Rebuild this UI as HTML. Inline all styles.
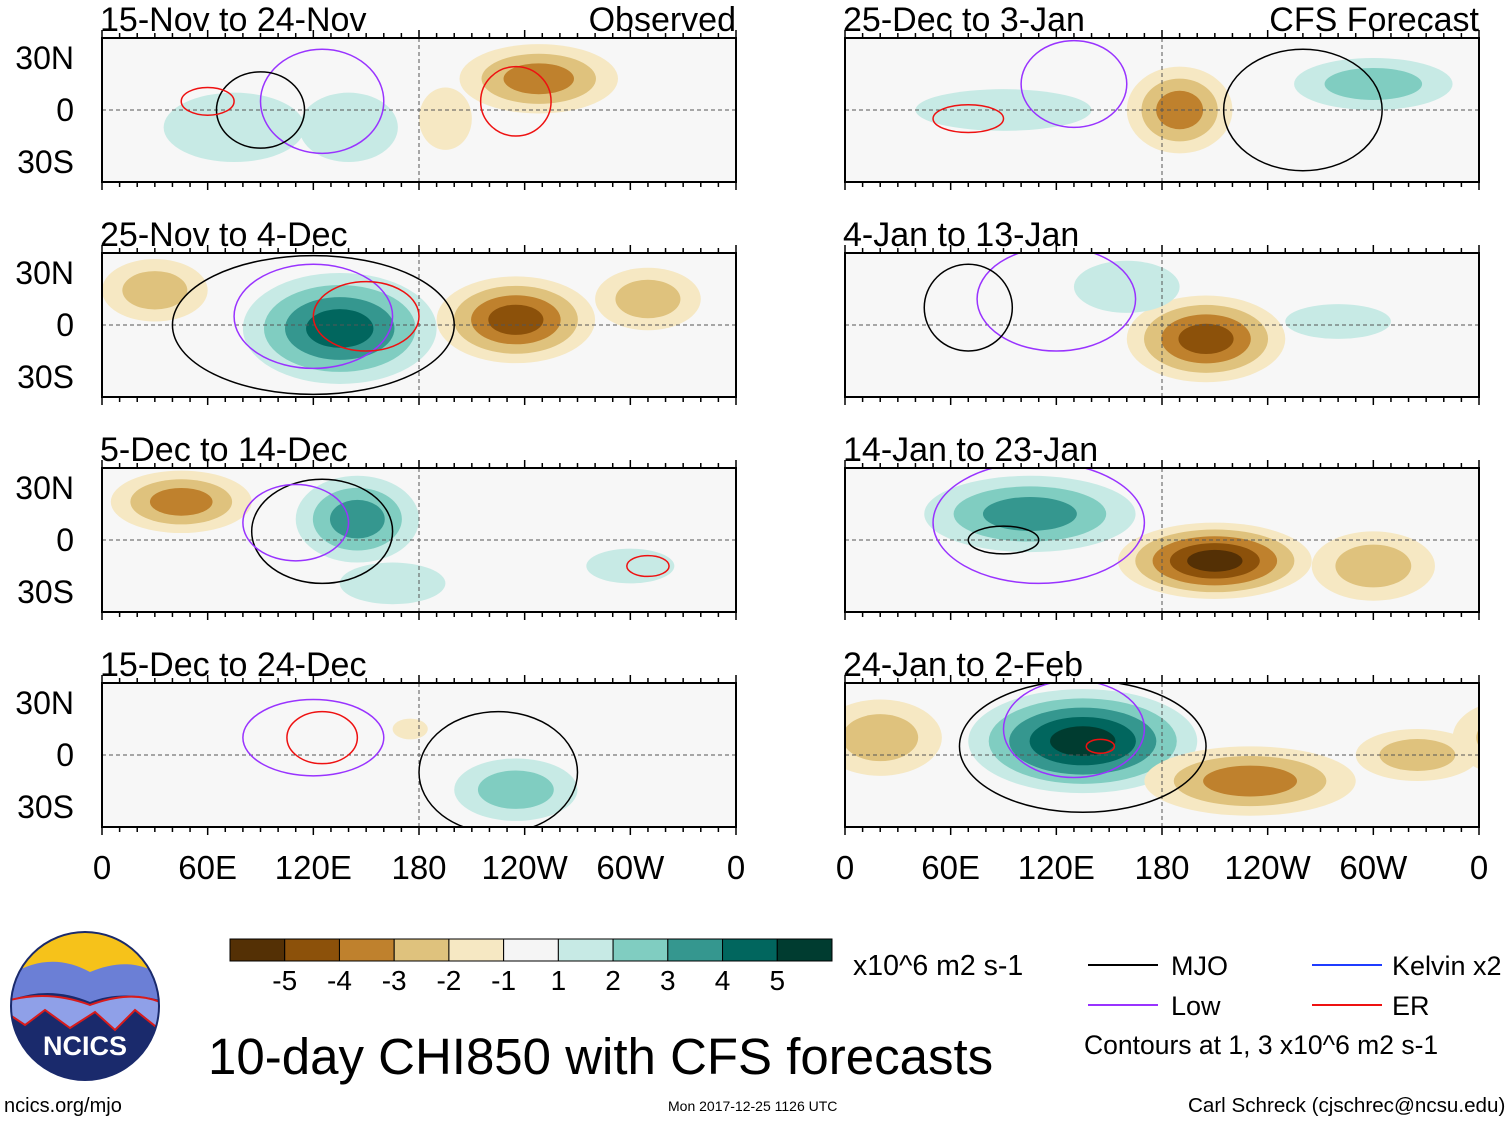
<!DOCTYPE html>
<html><head><meta charset="utf-8">
<style>
body{margin:0;background:#fff;width:1510px;height:1121px;overflow:hidden;font-family:"Liberation Sans",sans-serif}
svg text{font-family:"Liberation Sans",sans-serif}
</style></head><body>
<svg id="fig" width="1510" height="1121">
<defs>
<clipPath id="logoclip"><circle cx="85" cy="1006" r="74"/></clipPath>
</defs>
<g id="panels"></g>
<g id="cbar"></g>
<g><text x="853" y="975" font-size="28.5">x10^6 m2 s-1</text></g>
<g>
<line x1="1088" y1="965" x2="1158" y2="965" stroke="#000" stroke-width="2"/><text x="1171" y="975" font-size="27">MJO</text>
<line x1="1088" y1="1005" x2="1158" y2="1005" stroke="#9933ff" stroke-width="2"/><text x="1171" y="1015" font-size="27">Low</text>
<line x1="1312" y1="965" x2="1382" y2="965" stroke="#1f3cff" stroke-width="2"/><text x="1392" y="975" font-size="27">Kelvin x2</text>
<line x1="1312" y1="1005" x2="1382" y2="1005" stroke="#ee1111" stroke-width="2"/><text x="1392" y="1015" font-size="27">ER</text>
<text x="1084" y="1054" font-size="26.5">Contours at 1, 3 x10^6 m2 s-1</text>
</g>
<text x="208" y="1074" font-size="51">10-day CHI850 with CFS forecasts</text>
<text x="4" y="1112" font-size="20">ncics.org/mjo</text>
<text x="668" y="1111" font-size="14">Mon 2017-12-25 1126 UTC</text>
<text x="1188" y="1112" font-size="20.6">Carl Schreck (cjschrec@ncsu.edu)</text>
<g>
<g clip-path="url(#logoclip)">
<rect x="10" y="930" width="150" height="150" fill="#1a2a6c"/>
<rect x="10" y="930" width="150" height="45" fill="#f6c21a"/>
<path d="M10 975 Q50 950 90 972 Q130 955 160 975 L160 1000 Q120 990 90 1002 Q50 985 10 1000Z" fill="#6b7fd6"/>
<path d="M10 1000 Q50 990 90 1005 Q130 990 160 1002 L160 1030 L135 1010 L115 1030 L95 1012 L70 1028 L45 1010 L25 1025 L10 1015Z" fill="#8fa0e8" stroke="#d81b1b" stroke-width="2"/>
</g>
<circle cx="85" cy="1006" r="74" fill="none" stroke="#1a2a6c" stroke-width="2"/>
<text x="85" y="1055" font-size="27" font-weight="bold" fill="#fff" text-anchor="middle">NCICS</text>
</g>
</svg>
<script>
const NS="http://www.w3.org/2000/svg";
function mk(tag,attrs,parent){const e=document.createElementNS(NS,tag);for(const k in attrs)e.setAttribute(k,attrs[k]);parent.appendChild(e);return e;}
const levelColors={"-5":"#543005","-4":"#8c510a","-3":"#bf812d","-2":"#dfc27d","-1":"#f6e8c3","1":"#c7eae5","2":"#80cdc1","3":"#35978f","4":"#01665e","5":"#003c30"};
// colorbar data
const cbarColors=["#543005","#8c510a","#bf812d","#dfc27d","#f6e8c3","#f5f5f5","#c7eae5","#80cdc1","#35978f","#01665e","#003c30"];
const cbarTicks=["-5","-4","-3","-2","-1","1","2","3","4","5"];
// panel titles and layout
const panelTitles=["15-Nov to 24-Nov","25-Nov to 4-Dec","5-Dec to 14-Dec","15-Dec to 24-Dec","25-Dec to 3-Jan","4-Jan to 13-Jan","14-Jan to 23-Jan","24-Jan to 2-Feb"];
const panelCol=[0,0,0,0,1,1,1,1];
const panelRow=[0,1,2,3,0,1,2,3];
const lonTicks=["0","60E","120E","180","120W","60W","0"];
const latTicks=["30N","0","30S"];
// anomaly blobs: panel index, center lon, center lat, half-width lon, half-height lat, peak level
const blobPanel=[0,0,0,0, 1,1,1,1, 2,2,2,2, 3,3, 4,4,4, 5,5,5, 6,6,6, 7,7,7,7];
const blobLon=  [248,75,140,195, 135,235,30,310, 145,45,165,300, 235,175, 190,300,90, 205,160,280, 105,210,300, 135,230,20,325];
const blobLat=  [18,-10,-10,-5, -2,3,20,15, 12,22,-25,-15, -20,15, 0,15,0, -8,22,2, 15,-12,-15, 8,-15,10,0];
const blobRx=   [45,40,28,15, 55,45,30,30, 35,40,30,25, 35,10, 30,45,50, 45,30,30, 60,55,35, 65,60,35,35];
const blobRy=   [20,20,20,18, 32,25,18,18, 25,18,12,10, 18,6, 25,15,12, 25,15,10, 22,22,20, 30,20,22,15];
const blobLev=  [-3,1,1,-1, 4,-4,-2,-2, 3,-3,1,1, 2,-1, -3,2,1, -4,1,1, 3,-5,-2, 5,-3,-2,-2];
// contours: panel, lon, lat, rx, ry, type (m=MJO,l=Low,e=ER)
const ctrPanel=[0,0,0,0, 1,1,1, 2,2,2, 3,3,3, 4,4,4, 5,5, 6,6, 7,7,7];
const ctrLon=  [125,90,235,60, 120,120,150, 125,110,310, 225,125,120, 130,260,70, 120,70, 110,90, 135,130,145];
const ctrLat=  [5,0,5,5, 0,5,5, 5,10,-15, -10,10,10, 15,0,-5, 15,10, 10,0, 5,15,5];
const ctrRx=   [35,25,20,15, 80,45,30, 40,30,12, 45,20,40, 30,45,20, 45,25, 60,20, 70,40,8];
const ctrRy=   [30,22,20,8, 40,30,20, 30,22,6, 35,15,22, 25,35,8, 30,25, 35,8, 38,28,4];
const ctrType= ["l","m","e","e", "m","l","e", "m","l","e", "m","e","l", "l","m","e", "l","m", "l","m", "m","l","e"];
const ctrColor={m:"#000",l:"#9933ff",e:"#ee1111"};
const colX=[102,845], rowY=[38,253,468,683], PW=634, PH=144;
function xOf(col,lon){return colX[col]+lon/360*PW;}
function yOf(row,lat){return rowY[row]+PH/2-lat/41.5*PH/2;}
const root=document.getElementById('panels');
for(let p=0;p<8;p++){
  const c=panelCol[p],r=panelRow[p];
  const g=mk('g',{},root);
  
  
  mk('clipPath',{id:'clip'+p},g);
  mk('rect',{x:colX[c],y:rowY[r],width:PW,height:PH},g.lastChild);
  const inner=mk('g',{'clip-path':'url(#clip'+p+')'},g);
  mk('rect',{x:colX[c],y:rowY[r],width:PW,height:PH,fill:'#f7f7f7'},inner);
  for(let b=0;b<blobLon.length;b++){ if(blobPanel[b]!==p)continue;
    const L=blobLev[b],s=Math.sign(L),n=Math.abs(L);
    for(let k=1;k<=n;k++){const f=1-(k-1)/(n+0.6);
      for(const dl of [0,360,-360]){
      const e=mk('ellipse',{cx:xOf(c,blobLon[b]+dl),cy:yOf(r,blobLat[b]),rx:blobRx[b]*f/360*PW,ry:blobRy[b]*f/41.5*PH/2,fill:levelColors[String(s*k)]},inner);
      
      }
    }
  }
  mk('line',{x1:colX[c],x2:colX[c]+PW,y1:yOf(r,0),y2:yOf(r,0),stroke:'#555','stroke-dasharray':'4,3','stroke-width':1},inner);
  mk('line',{x1:xOf(c,180),x2:xOf(c,180),y1:rowY[r],y2:rowY[r]+PH,stroke:'#555','stroke-dasharray':'4,3','stroke-width':1},inner);
  for(let k=0;k<ctrLon.length;k++){ if(ctrPanel[k]!==p)continue;
    const e=mk('ellipse',{cx:xOf(c,ctrLon[k]),cy:yOf(r,ctrLat[k]),rx:ctrRx[k]/360*PW,ry:ctrRy[k]/41.5*PH/2,fill:'none',stroke:ctrColor[ctrType[k]],'stroke-width':1.5},inner);
    
    
  }
  mk('rect',{x:colX[c],y:rowY[r],width:PW,height:PH,fill:'none',stroke:'#000','stroke-width':2},g);
  for(let t=0;t<=36;t++){const x=colX[c]+t*PW/36,len=(t%6===0)?8:5;
    mk('line',{x1:x,x2:x,y1:rowY[r],y2:rowY[r]-len,stroke:'#000','stroke-width':1.5},g);
    mk('line',{x1:x,x2:x,y1:rowY[r]+PH,y2:rowY[r]+PH+len,stroke:'#000','stroke-width':1.5},g);}
  if(c===0){latTicks.forEach((t,i)=>{const tx=mk('text',{x:74,y:yOf(r,30-30*i)+11,'font-size':32,'text-anchor':'end'},g);tx.textContent=t;});}
  const tt=mk('text',{x:colX[c]-2,y:rowY[r]-7,'font-size':34},g);tt.textContent=panelTitles[p];
  
  
  if(r===0){const lb=mk('text',{x:colX[c]+PW,y:rowY[r]-7,'font-size':34,'text-anchor':'end'},g);lb.textContent=c===0?'Observed':'CFS Forecast';}
  if(r===3){lonTicks.forEach((t,i)=>{const tx=mk('text',{x:xOf(c,i*60),y:879,'font-size':33,'text-anchor':'middle'},g);tx.textContent=t;});}
}
const cb=document.getElementById('cbar');
const cw=602/cbarColors.length;
cbarColors.forEach((col,i)=>{const r=mk('rect',{x:230+i*cw,y:939,width:cw,height:22,fill:col,stroke:'#000','stroke-width':1},cb);
  
  });
cbarTicks.forEach((t,i)=>{const tx=mk('text',{x:230+(i+1)*cw,y:990,'font-size':28,'text-anchor':'middle'},cb);tx.textContent=t;});
</script>
</body></html>
